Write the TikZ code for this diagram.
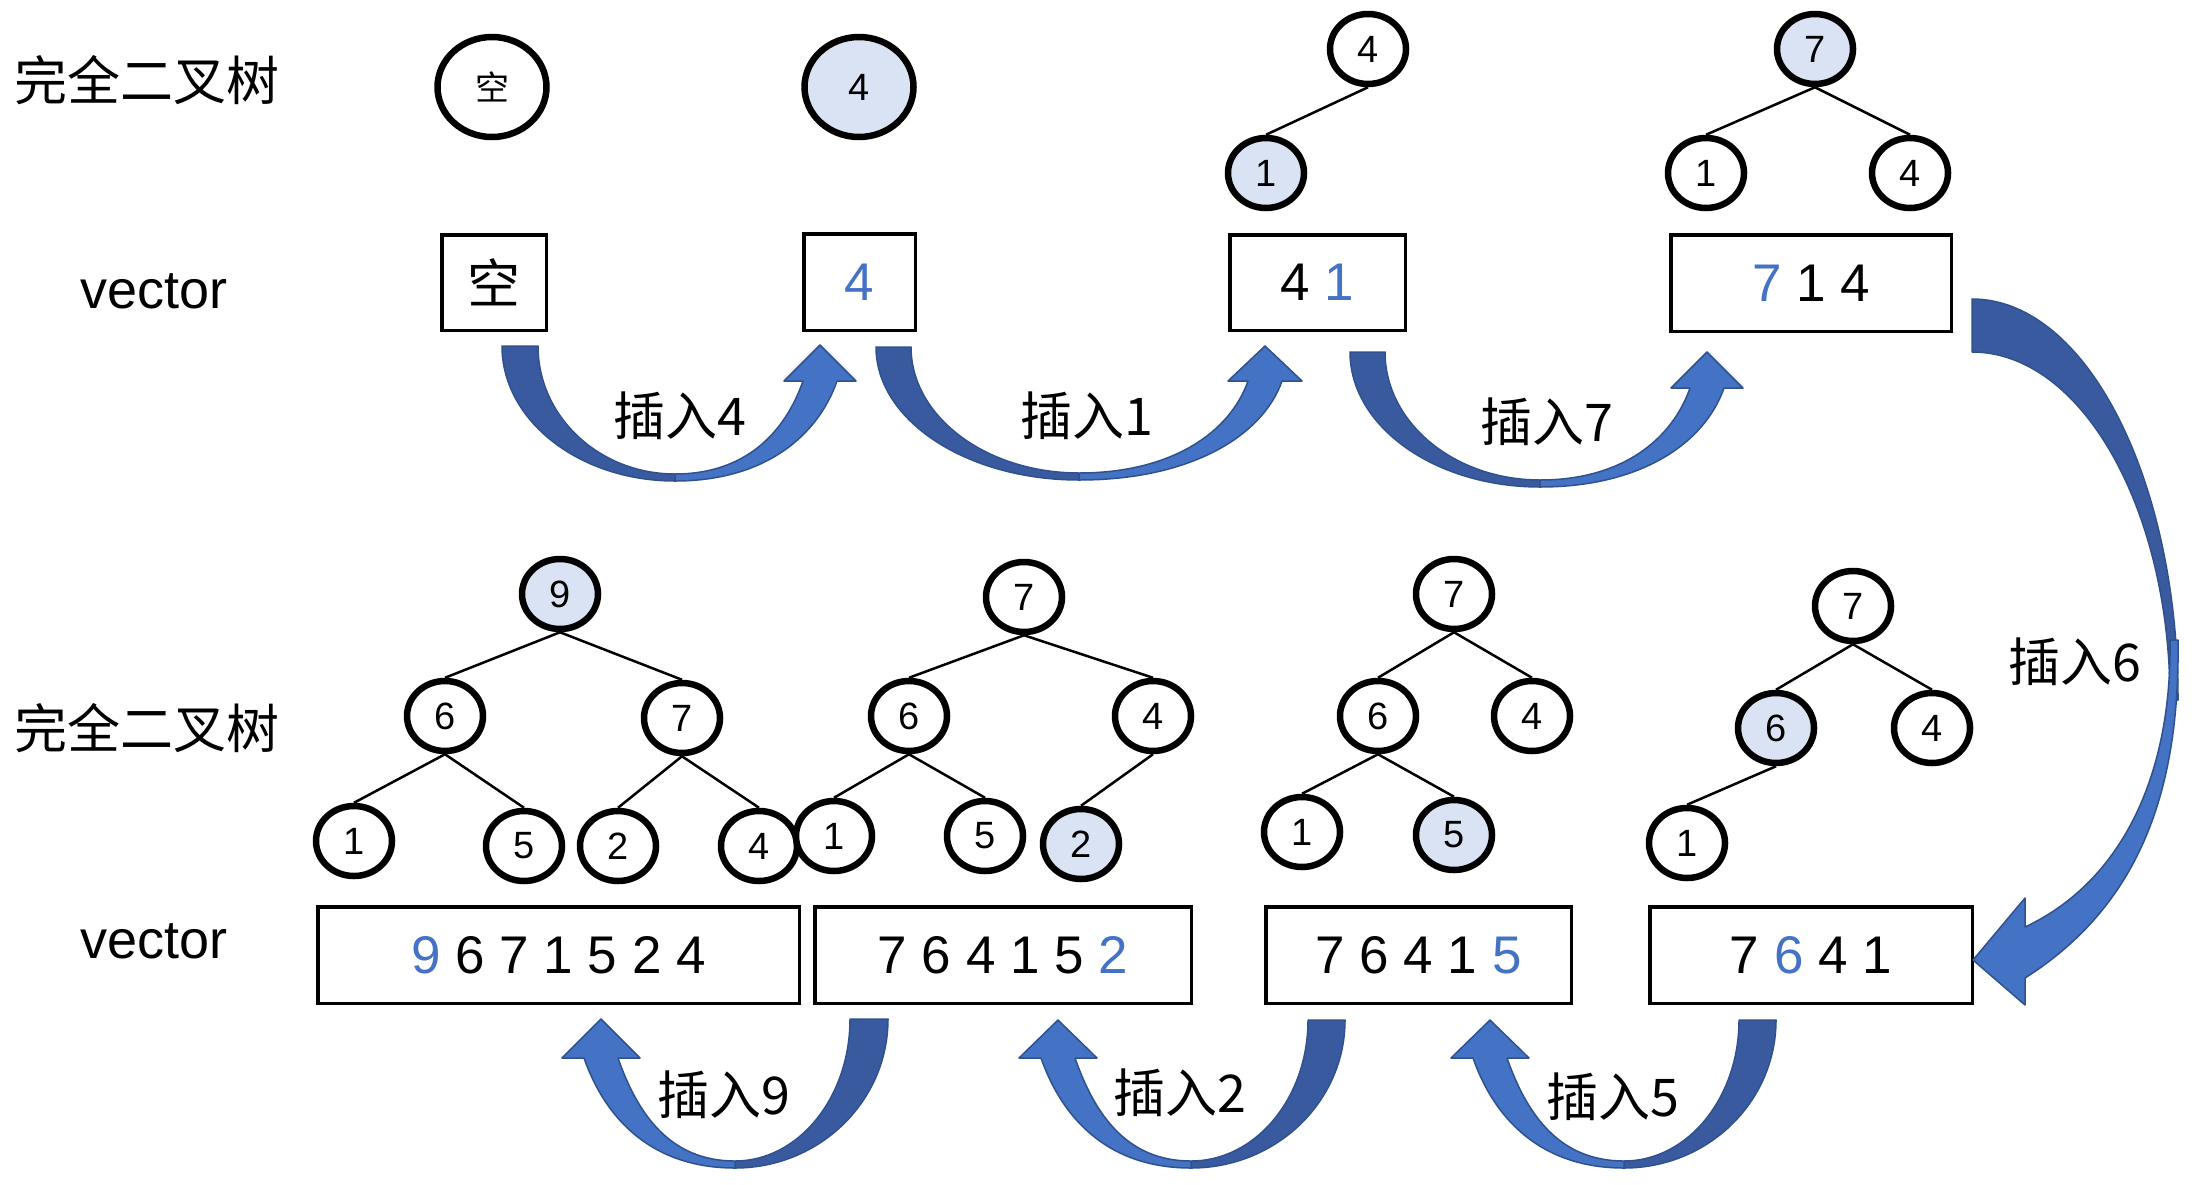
\documentclass[tikz,border=0pt]{standalone}
\usepackage{fontspec}
\usetikzlibrary{shapes.geometric}
\setmainfont{Liberation Sans}
\newfontfamily\cjk{Noto Sans CJK SC}
\definecolor{hfill}{HTML}{DAE3F3}
\definecolor{hblue}{HTML}{4472C4}
\definecolor{adark}{HTML}{3A5A9F}
\definecolor{aline}{HTML}{2F528F}
\newcommand{\bl}[1]{\textcolor{hblue}{#1}}
% #1 tail outer x, #2 tail inner x, #3 tail top y, #4 bottom x, #5 bottom y,
% #6 head centre x, #7 head base y, #8 tip y, #9 head half width
\newcommand{\uarrow}[9]{%
  \pgfmathsetmacro{\uaS}{(#6>#4)?1:-1}%
  \pgfmathsetmacro{\uaK}{0.5523}%
  \pgfmathsetmacro{\uaYi}{#5-7}%
  \pgfmathsetmacro{\uaCay}{#3+\uaK*(#5-#3)}%
  \pgfmathsetmacro{\uaCax}{#4+\uaK*(#1-#4)}%
  \pgfmathsetmacro{\uaCbx}{#4+\uaK*(#2-#4)}%
  \pgfmathsetmacro{\uaCby}{#3+\uaK*(\uaYi-#3)}%
  \path[arrdark] (#1,#3) .. controls (#1,\uaCay) and (\uaCax,#5) .. (#4,#5) -- (#4,\uaYi) .. controls (\uaCbx,\uaYi) and (#2,\uaCby) .. (#2,#3) -- cycle;
  \pgfmathsetmacro{\uaHo}{#6+\uaS*17}%
  \pgfmathsetmacro{\uaHi}{#6-\uaS*17}%
  \pgfmathsetmacro{\uaL}{\uaK*(#5-#7)}%
  \pgfmathsetmacro{\uaLi}{\uaK*(\uaYi-#7)}%
  \pgfmathsetmacro{\uaCcx}{#4+\uaK*(\uaHo-#4)}%
  \pgfmathsetmacro{\uaCdx}{\uaHo-\uaS*0.35*\uaL}%
  \pgfmathsetmacro{\uaCdy}{#7+\uaL}%
  \pgfmathsetmacro{\uaCex}{\uaHi-\uaS*0.35*\uaLi}%
  \pgfmathsetmacro{\uaCey}{#7+\uaLi}%
  \pgfmathsetmacro{\uaCfx}{#4+\uaK*(\uaHi-#4)}%
  \pgfmathsetmacro{\uaBo}{#6+\uaS*#9}%
  \pgfmathsetmacro{\uaBi}{#6-\uaS*#9}%
  \path[arrlight] (#4,#5) .. controls (\uaCcx,#5) and (\uaCdx,\uaCdy) .. (\uaHo,#7) -- (\uaBo,#7) -- (#6,#8) -- (\uaBi,#7) -- (\uaHi,#7) .. controls (\uaCex,\uaCey) and (\uaCfx,\uaYi) .. (#4,\uaYi) -- cycle;
}
\begin{document}
\begin{tikzpicture}[x=1pt,y=-1pt,
  tn/.style={ellipse, draw, line width=6.5pt, minimum width=76pt, minimum height=70pt, inner sep=0pt, fill=white, font=\fontsize{38}{38}\selectfont},
  bigc/.style={tn, minimum width=109pt, minimum height=100pt},
  vbox/.style={rectangle, draw, line width=3.5pt, inner sep=0pt, minimum height=96.5pt, font=\fontsize{53}{53}\selectfont},
  tedge/.style={line width=2.5pt},
  lab/.style={font=\cjk\fontsize{52}{52}\selectfont, inner sep=0pt},
  cjklab/.style={font=\cjk\fontsize{53}{53}\selectfont, inner sep=0pt},
  vlab/.style={font=\fontsize{54}{54}\selectfont, inner sep=0pt},
  arrdark/.style={fill=adark, draw=aline, line width=1.5pt, line join=round},
  arrlight/.style={fill=hblue, draw=aline, line width=1.5pt, line join=round}]
\fill[white] (0,0) rectangle (2210,1184);
\useasboundingbox (0,0) rectangle (2210,1184);

% row labels
\node[cjklab, anchor=west] (lt1) at (14,80) {完全二叉树};
\node[cjklab, anchor=west] (lt2) at (14,728) {完全二叉树};
\node[vlab, anchor=base west] (lv1) at (80,308) {vector};
\node[vlab, anchor=base west] (lv2) at (80,958) {vector};

% ---- top row trees
\node[bigc] (c0) at (492,87) {\cjk\fontsize{34}{34}\selectfont 空};
\node[bigc, fill=hfill] (c1) at (859,87) {4};

\node[tn] (a4) at (1368,49) {4};
\node[tn, fill=hfill] (a1) at (1266,173) {1};
\draw[tedge] (a4.south) -- (a1.north);

\node[tn, fill=hfill] (b7) at (1815,49) {7};
\node[tn] (b1) at (1706,173) {1};
\node[tn] (b4) at (1910,173) {4};
\draw[tedge] (b7.south) -- (b1.north);
\draw[tedge] (b7.south) -- (b4.north);

% ---- top row vectors
\node[vbox, minimum width=104.5pt, minimum height=95.5pt] (v0) at (494,282.5) {\cjk 空};
\node[vbox, minimum width=111.5pt] (v1) at (859.5,282) {\bl{4}};
\node[vbox, minimum width=175.5pt, minimum height=95.5pt] (v2) at (1317.5,282.5) {4 \bl{1}};
\node[vbox, minimum width=280.5pt] (v3) at (1811,283) {\bl{7} 1 4};

% ---- bottom row trees
\node[tn, fill=hfill] (n9) at (560,594) {9};
\node[tn] (n6) at (445,716) {6};
\node[tn] (n7) at (682,718) {7};
\node[tn] (n1) at (354,841) {1};
\node[tn] (n5) at (524,846) {5};
\node[tn] (n2) at (618,846) {2};
\node[tn] (n4) at (759,846) {4};
\draw[tedge] (n9.south) -- (n6.north);
\draw[tedge] (n9.south) -- (n7.north);
\draw[tedge] (n6.south) -- (n1.north);
\draw[tedge] (n6.south) -- (n5.north);
\draw[tedge] (n7.south) -- (n2.north);
\draw[tedge] (n7.south) -- (n4.north);

\node[tn] (m7) at (1024,597) {7};
\node[tn] (m6) at (909,716) {6};
\node[tn] (m4) at (1153,716) {4};
\node[tn] (m1) at (834,836) {1};
\node[tn] (m5) at (985,836) {5};
\node[tn, fill=hfill] (m2) at (1081,844) {2};
\draw[tedge] (m7.south) -- (m6.north);
\draw[tedge] (m7.south) -- (m4.north);
\draw[tedge] (m6.south) -- (m1.north);
\draw[tedge] (m6.south) -- (m5.north);
\draw[tedge] (m4.south) -- (m2.north);

\node[tn] (p7) at (1454,594) {7};
\node[tn] (p6) at (1378,716) {6};
\node[tn] (p4) at (1532,716) {4};
\node[tn] (p1) at (1302,832) {1};
\node[tn, fill=hfill] (p5) at (1454,835) {5};
\draw[tedge] (p7.south) -- (p6.north);
\draw[tedge] (p7.south) -- (p4.north);
\draw[tedge] (p6.south) -- (p1.north);
\draw[tedge] (p6.south) -- (p5.north);

\node[tn] (q7) at (1853,606) {7};
\node[tn, fill=hfill] (q6) at (1776,728) {6};
\node[tn] (q4) at (1932,728) {4};
\node[tn] (q1) at (1687,843) {1};
\draw[tedge] (q7.south) -- (q6.north);
\draw[tedge] (q7.south) -- (q4.north);
\draw[tedge] (q6.south) -- (q1.north);

% ---- bottom row vectors
\node[vbox, minimum width=481.5pt] (w0) at (558.5,955) {\bl{9} 6 7 1 5 2 4};
\node[vbox, minimum width=376.5pt] (w1) at (1003,955) {7 6 4 1 5 \bl{2}};
\node[vbox, minimum width=305.5pt] (w2) at (1418.5,955) {7 6 4 1 \bl{5}};
\node[vbox, minimum width=322.5pt] (w3) at (1811,955) {7 \bl{6} 4 1};

% ---- curved block arrows
\uarrow{502}{538}{346}{675}{481}{820}{381}{345}{36}
\uarrow{876}{911}{347}{1079}{480}{1265}{381}{346}{37}
\uarrow{1350}{1385}{352}{1540}{487}{1707}{388}{352}{36}
\uarrow{888}{850}{1019}{735}{1168}{601}{1058}{1019}{39}
\uarrow{1345}{1308}{1020}{1191}{1168}{1058}{1058}{1020}{39}
\uarrow{1776}{1739}{1020}{1624}{1168}{1490}{1058}{1020}{39}

% big arrow (insert 6)
\path[arrdark] (1972,299) .. controls (2086,299) and (2178,479) .. (2178,700)
  -- (2170,700) .. controls (2170,508) and (2081,352) .. (1972,352) -- cycle;
\path[arrlight] (2178,640) .. controls (2180,790) and (2140,905) .. (2025,978)
  -- (2025,1005) -- (1973,960) -- (2025,898) -- (2025,927)
  .. controls (2125,880) and (2172,770) .. (2170,640) -- cycle;

% ---- arrow labels
\node[lab] (l4) at (680,416) {插入4};
\node[lab] (l1) at (1087,416) {插入1};
\node[lab] (l7) at (1547,422) {插入7};
\node[lab] (l6) at (2075,662) {插入6};
\node[lab] (l9) at (724,1095) {插入9};
\node[lab] (l2) at (1180,1093) {插入2};
\node[lab] (l5) at (1613,1097) {插入5};
\end{tikzpicture}
\end{document}
